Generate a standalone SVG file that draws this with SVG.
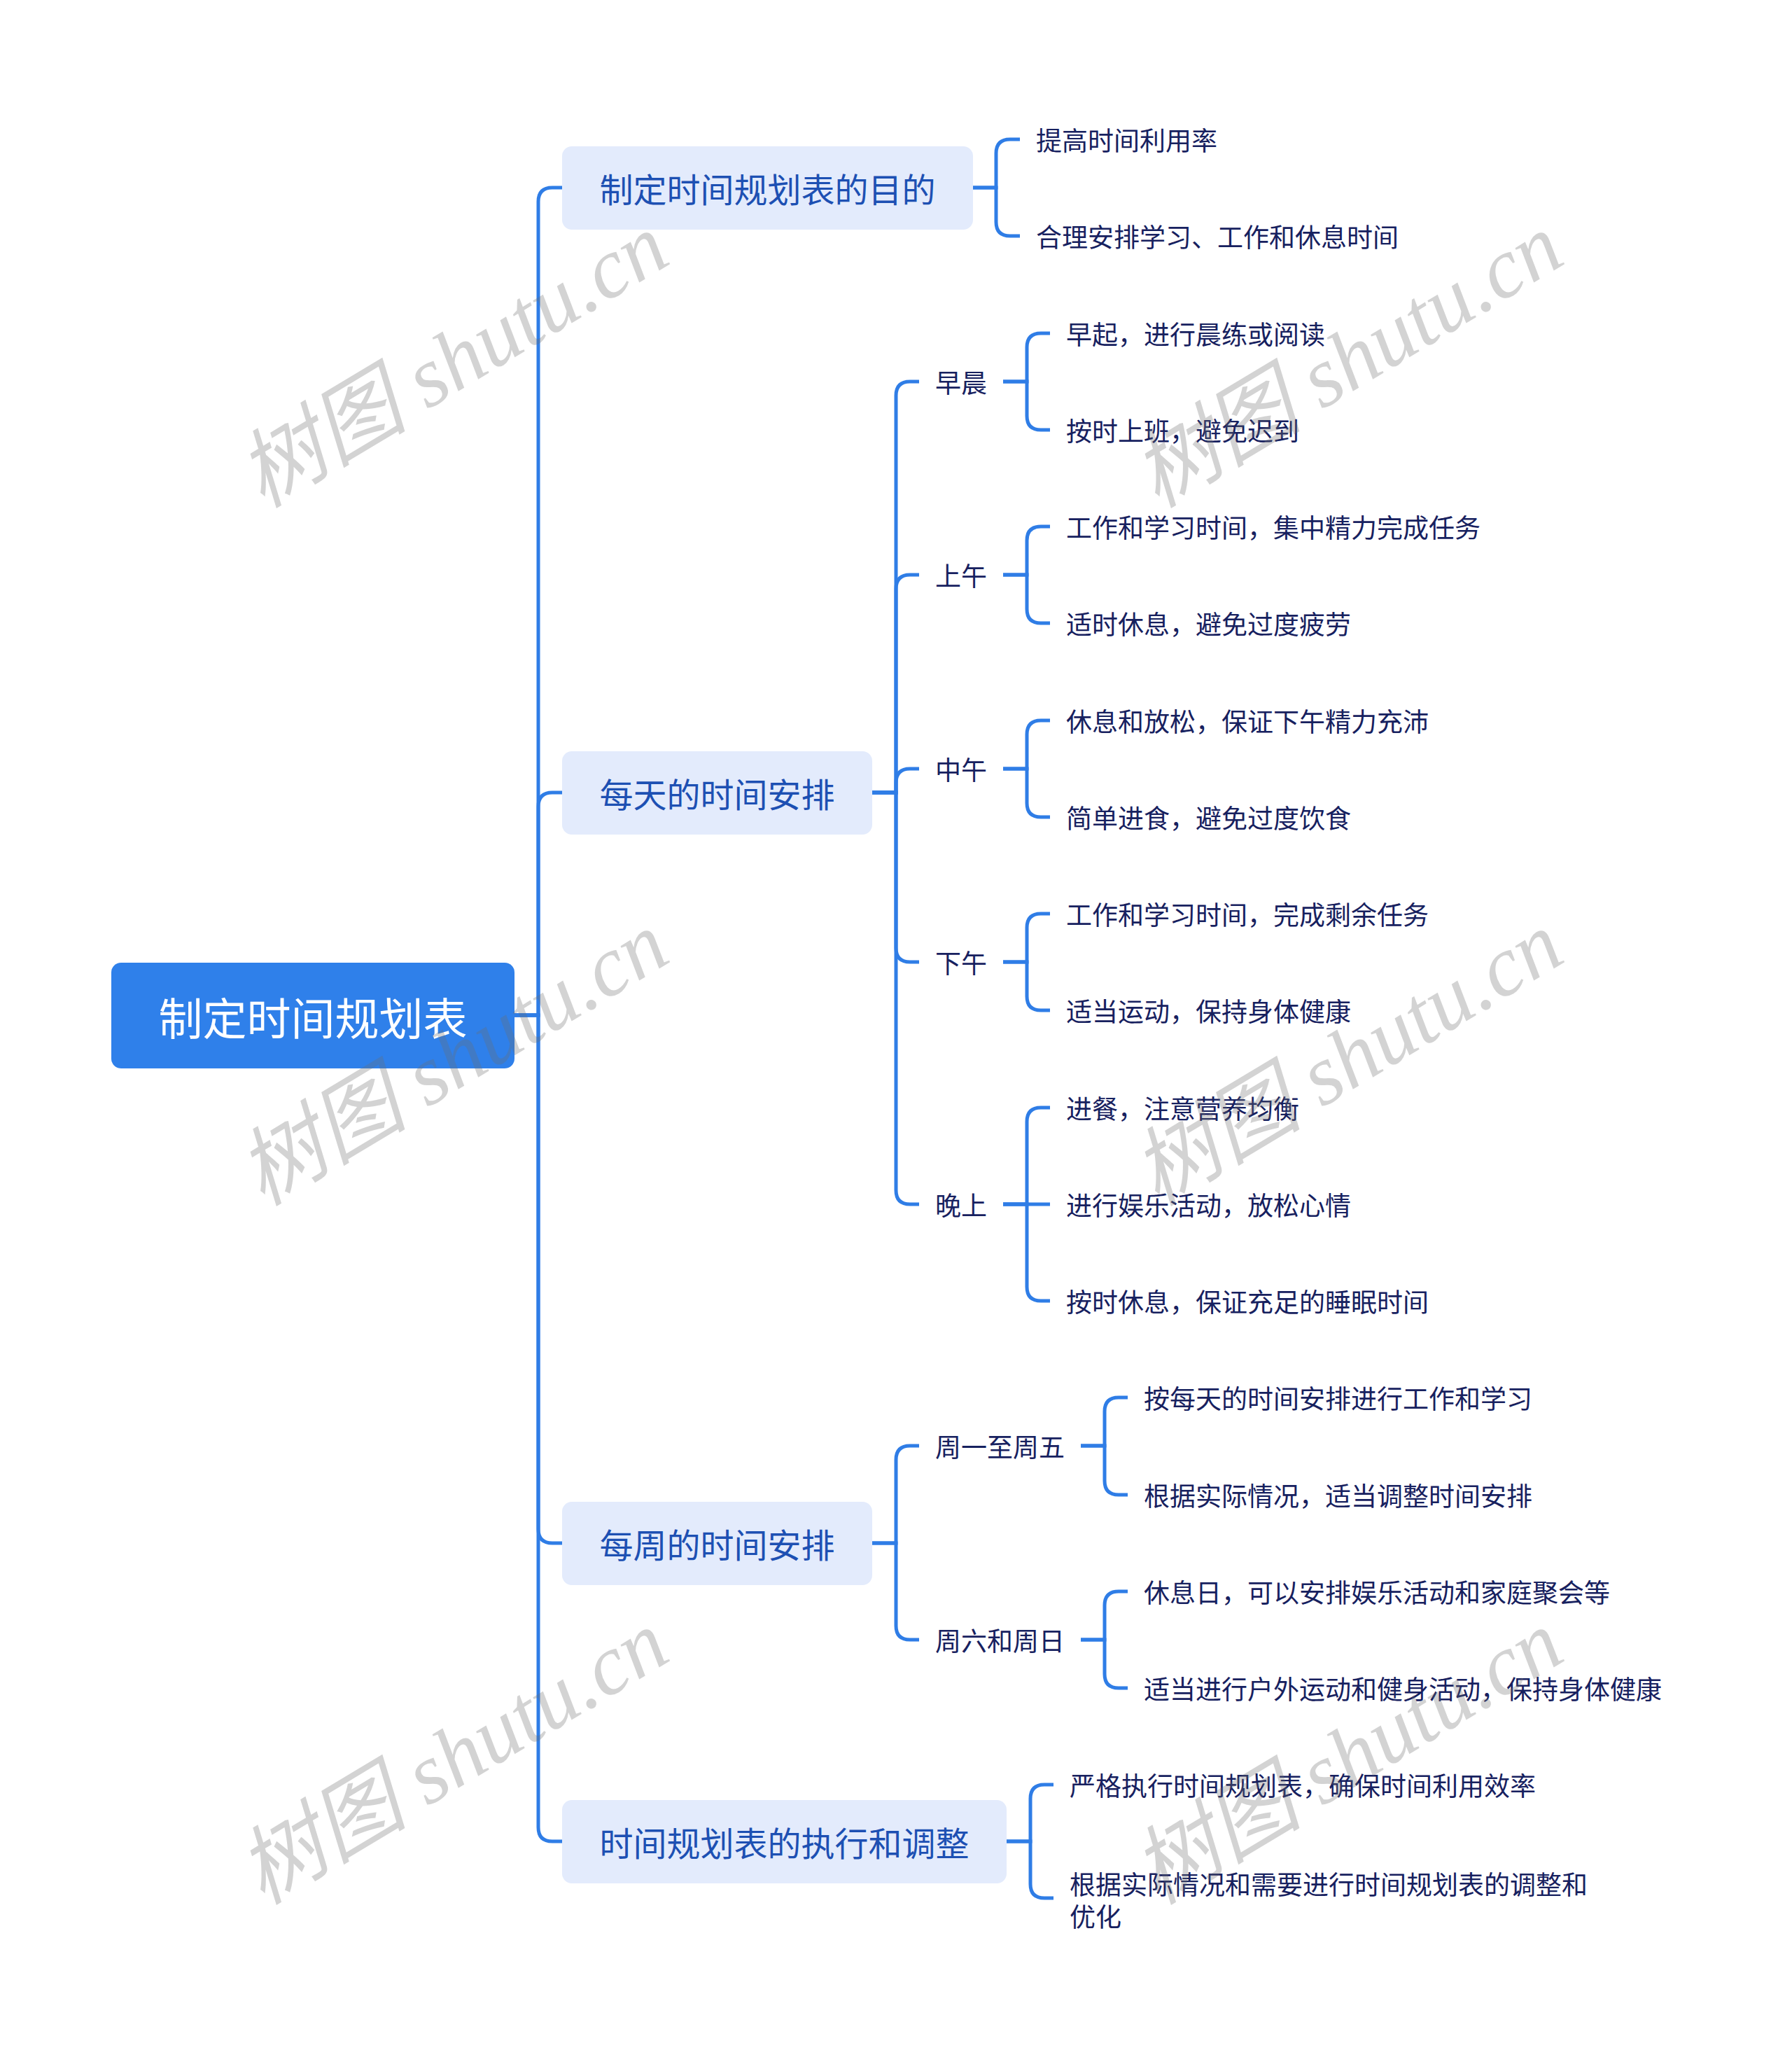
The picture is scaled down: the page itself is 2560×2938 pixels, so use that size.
<svg xmlns="http://www.w3.org/2000/svg" width="2560" height="2938" viewBox="0 0 2560 2938">
<style>
.bg{fill:#ffffff}
.ln{fill:none;stroke:#2F7DE6;stroke-width:5}
.root-box{fill:#2F80EA}
.root-t{font-family:"Noto Sans CJK SC","Noto Sans",sans-serif;font-size:63px;fill:#ffffff;text-anchor:middle;dominant-baseline:central}
.l1-box{fill:#E3EBFC}
.l1-t{font-family:"Noto Sans CJK SC","Noto Sans",sans-serif;font-size:48px;fill:#1D50B3;text-anchor:middle;dominant-baseline:central}
.t{font-family:"Noto Sans CJK SC","Noto Sans",sans-serif;font-size:37px;fill:#17215F;dominant-baseline:central}
.wm{font-family:"Liberation Serif","Noto Sans CJK SC",serif;font-style:italic;font-size:122px;fill:#6E6E6E;fill-opacity:0.3;text-anchor:middle;dominant-baseline:central}
</style>
<rect class="bg" x="0" y="0" width="2560" height="2938"/>

<g id="connectors">
<!-- root to level 1 -->
<path class="ln" d="M735 1450 H769 V288 Q769 268 789 268 H803"/>
<path class="ln" d="M735 1450 H769 V1152 Q769 1132 789 1132 H803"/>
<path class="ln" d="M735 1450 H769 V2184 Q769 2204 789 2204 H803"/>
<path class="ln" d="M735 1450 H769 V2610 Q769 2630 789 2630 H803"/>
<!-- box1 -->
<path class="ln" d="M1390 268 H1423 V219 Q1423 199 1443 199 H1457"/>
<path class="ln" d="M1390 268 H1423 V317 Q1423 337 1443 337 H1457"/>
<!-- box2 to level 2 -->
<path class="ln" d="M1246 1132 H1280 V565 Q1280 545 1300 545 H1313"/>
<path class="ln" d="M1246 1132 H1280 V841 Q1280 821 1300 821 H1313"/>
<path class="ln" d="M1246 1132 H1280 V1118 Q1280 1098 1300 1098 H1313"/>
<path class="ln" d="M1246 1132 H1280 V1354 Q1280 1374 1300 1374 H1313"/>
<path class="ln" d="M1246 1132 H1280 V1700 Q1280 1720 1300 1720 H1313"/>
<!-- 早晨 -->
<path class="ln" d="M1433 545 H1467 V496 Q1467 476 1487 476 H1500"/>
<path class="ln" d="M1433 545 H1467 V594 Q1467 614 1487 614 H1500"/>
<!-- 上午 -->
<path class="ln" d="M1433 821 H1467 V772 Q1467 752 1487 752 H1500"/>
<path class="ln" d="M1433 821 H1467 V870 Q1467 890 1487 890 H1500"/>
<!-- 中午 -->
<path class="ln" d="M1433 1098 H1467 V1049 Q1467 1029 1487 1029 H1500"/>
<path class="ln" d="M1433 1098 H1467 V1147 Q1467 1167 1487 1167 H1500"/>
<!-- 下午 -->
<path class="ln" d="M1433 1374 H1467 V1325 Q1467 1305 1487 1305 H1500"/>
<path class="ln" d="M1433 1374 H1467 V1423 Q1467 1443 1487 1443 H1500"/>
<!-- 晚上 -->
<path class="ln" d="M1433 1720 H1467 V1602 Q1467 1582 1487 1582 H1500"/>
<path class="ln" d="M1433 1720 H1500"/>
<path class="ln" d="M1433 1720 H1467 V1838 Q1467 1858 1487 1858 H1500"/>
<!-- box3 to level 2 -->
<path class="ln" d="M1246 2204 H1280 V2085 Q1280 2065 1300 2065 H1313"/>
<path class="ln" d="M1246 2204 H1280 V2322 Q1280 2342 1300 2342 H1313"/>
<!-- 周一至周五 -->
<path class="ln" d="M1544 2065 H1578 V2016 Q1578 1996 1598 1996 H1611"/>
<path class="ln" d="M1544 2065 H1578 V2115 Q1578 2135 1598 2135 H1611"/>
<!-- 周六和周日 -->
<path class="ln" d="M1544 2342 H1578 V2293 Q1578 2273 1598 2273 H1611"/>
<path class="ln" d="M1544 2342 H1578 V2391 Q1578 2411 1598 2411 H1611"/>
<!-- box4 -->
<path class="ln" d="M1438 2630 H1472 V2569 Q1472 2549 1492 2549 H1505"/>
<path class="ln" d="M1438 2630 H1472 V2691 Q1472 2711 1492 2711 H1505"/>
</g>

<g id="root">
<rect class="root-box" x="159" y="1375" width="576" height="151" rx="14"/>
<text class="root-t" x="447" y="1450">制定时间规划表</text>
</g>

<g id="n1">
<rect class="l1-box" x="803" y="209" width="587" height="119" rx="14"/>
<text class="l1-t" x="1096.5" y="268">制定时间规划表的目的</text>
</g>
<g id="n1-1"><text class="t" x="1480" y="199">提高时间利用率</text></g>
<g id="n1-2"><text class="t" x="1480" y="337">合理安排学习、工作和休息时间</text></g>

<g id="n2">
<rect class="l1-box" x="803" y="1073" width="443" height="119" rx="14"/>
<text class="l1-t" x="1024.5" y="1132">每天的时间安排</text>
</g>
<g id="n2-1"><text class="t" x="1336" y="545">早晨</text></g>
<g id="n2-1-1"><text class="t" x="1523" y="476">早起，进行晨练或阅读</text></g>
<g id="n2-1-2"><text class="t" x="1523" y="614">按时上班，避免迟到</text></g>
<g id="n2-2"><text class="t" x="1336" y="821">上午</text></g>
<g id="n2-2-1"><text class="t" x="1523" y="752">工作和学习时间，集中精力完成任务</text></g>
<g id="n2-2-2"><text class="t" x="1523" y="890">适时休息，避免过度疲劳</text></g>
<g id="n2-3"><text class="t" x="1336" y="1098">中午</text></g>
<g id="n2-3-1"><text class="t" x="1523" y="1029">休息和放松，保证下午精力充沛</text></g>
<g id="n2-3-2"><text class="t" x="1523" y="1167">简单进食，避免过度饮食</text></g>
<g id="n2-4"><text class="t" x="1336" y="1374">下午</text></g>
<g id="n2-4-1"><text class="t" x="1523" y="1305">工作和学习时间，完成剩余任务</text></g>
<g id="n2-4-2"><text class="t" x="1523" y="1443">适当运动，保持身体健康</text></g>
<g id="n2-5"><text class="t" x="1336" y="1720">晚上</text></g>
<g id="n2-5-1"><text class="t" x="1523" y="1582">进餐，注意营养均衡</text></g>
<g id="n2-5-2"><text class="t" x="1523" y="1720">进行娱乐活动，放松心情</text></g>
<g id="n2-5-3"><text class="t" x="1523" y="1858">按时休息，保证充足的睡眠时间</text></g>

<g id="n3">
<rect class="l1-box" x="803" y="2145" width="443" height="119" rx="14"/>
<text class="l1-t" x="1024.5" y="2204">每周的时间安排</text>
</g>
<g id="n3-1"><text class="t" x="1336" y="2065">周一至周五</text></g>
<g id="n3-1-1"><text class="t" x="1634" y="1996">按每天的时间安排进行工作和学习</text></g>
<g id="n3-1-2"><text class="t" x="1634" y="2135">根据实际情况，适当调整时间安排</text></g>
<g id="n3-2"><text class="t" x="1336" y="2342">周六和周日</text></g>
<g id="n3-2-1"><text class="t" x="1634" y="2273">休息日，可以安排娱乐活动和家庭聚会等</text></g>
<g id="n3-2-2"><text class="t" x="1634" y="2411">适当进行户外运动和健身活动，保持身体健康</text></g>

<g id="n4">
<rect class="l1-box" x="803" y="2571" width="635" height="119" rx="14"/>
<text class="l1-t" x="1120.5" y="2630">时间规划表的执行和调整</text>
</g>
<g id="n4-1"><text class="t" x="1528" y="2549">严格执行时间规划表，确保时间利用效率</text></g>
<g id="n4-2"><text class="t" x="1528" y="2690">根据实际情况和需要进行时间规划表的调整和</text><text class="t" x="1528" y="2736">优化</text></g>

<g id="watermarks">
<text class="wm" transform="translate(647 515) rotate(-31)">树图 shutu.cn</text>
<text class="wm" transform="translate(1925 515) rotate(-31)">树图 shutu.cn</text>
<text class="wm" transform="translate(647 1512) rotate(-31)">树图 shutu.cn</text>
<text class="wm" transform="translate(1925 1512) rotate(-31)">树图 shutu.cn</text>
<text class="wm" transform="translate(647 2510) rotate(-31)">树图 shutu.cn</text>
<text class="wm" transform="translate(1925 2510) rotate(-31)">树图 shutu.cn</text>
</g>
</svg>
